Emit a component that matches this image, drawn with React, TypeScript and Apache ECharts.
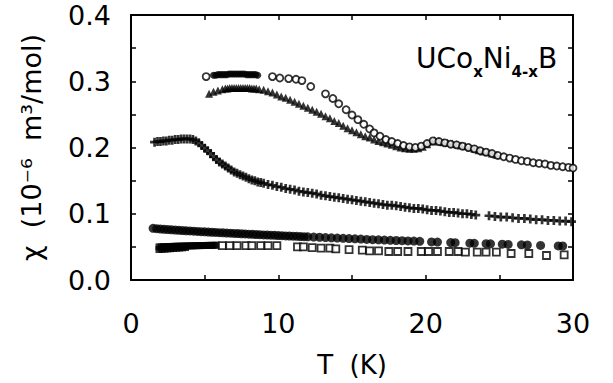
import React, { useEffect, useRef } from "react";
import * as echarts from "echarts";

// ---- data: [T (K), chi (10^-6 m^3/mol)] ----
const openCirclesDense: number[][] = [
  [5.6, 0.309], [5.75, 0.309], [5.9, 0.31], [6.05, 0.31], [6.2, 0.31], [6.35, 0.31],
  [6.5, 0.31], [6.65, 0.311], [6.8, 0.311], [6.95, 0.311], [7.1, 0.311], [7.25, 0.311], [7.4, 0.311],
  [7.55, 0.311], [7.7, 0.311], [7.85, 0.31], [8.0, 0.31], [8.15, 0.31], [8.3, 0.31], [8.45, 0.31],
  [8.6, 0.309],
];

const openCircles: number[][] = [
  [5.1, 0.307], [9.6, 0.307], [10.1, 0.305], [10.7, 0.304], [11.2, 0.303], [11.6, 0.301], [12.2, 0.292],
  [13.2, 0.281], [13.7, 0.274], [14.1, 0.266], [14.6, 0.257], [15.0, 0.249], [15.4, 0.242], [15.8, 0.235],
  [16.2, 0.228], [16.5, 0.222], [16.9, 0.217], [17.3, 0.212], [17.7, 0.209], [18.1, 0.206], [18.5, 0.203],
  [18.9, 0.201], [19.3, 0.2], [19.7, 0.202], [20.1, 0.206], [20.5, 0.21], [20.9, 0.209], [21.3, 0.207],
  [21.7, 0.205], [22.1, 0.204], [22.5, 0.202], [22.9, 0.2], [23.3, 0.198], [23.7, 0.195], [24.1, 0.193],
  [24.5, 0.191], [24.9, 0.188], [25.3, 0.186], [25.7, 0.184], [26.1, 0.182], [26.5, 0.18], [26.9, 0.179],
  [27.3, 0.177], [27.7, 0.176], [28.1, 0.175], [28.5, 0.173], [28.9, 0.172], [29.3, 0.171], [29.7, 0.17],
  [30.0, 0.169],
];

const triangles: number[][] = [
  [5.3, 0.281], [5.6, 0.284], [5.9, 0.286], [6.2, 0.288], [6.4, 0.289], [6.55, 0.289], [6.7, 0.29],
  [6.85, 0.29], [7.0, 0.29], [7.15, 0.29], [7.3, 0.29], [7.45, 0.29], [7.6, 0.29], [7.75, 0.29],
  [7.9, 0.29], [8.05, 0.29], [8.2, 0.289], [8.35, 0.289], [8.5, 0.289], [8.7, 0.288], [9.0, 0.287],
  [9.3, 0.285], [9.6, 0.283], [9.9, 0.28], [10.2, 0.277], [10.5, 0.275], [10.8, 0.272], [11.1, 0.269],
  [11.4, 0.266], [11.7, 0.263], [12.0, 0.26], [12.3, 0.257], [12.6, 0.254], [12.9, 0.251], [13.2, 0.247],
  [13.5, 0.244], [13.8, 0.24], [14.1, 0.237], [14.4, 0.233], [14.7, 0.229], [15.0, 0.226], [15.3, 0.223],
  [15.6, 0.22], [15.9, 0.217], [16.2, 0.215], [16.5, 0.212], [16.8, 0.21], [17.1, 0.208], [17.4, 0.206],
  [17.7, 0.204], [18.0, 0.202], [18.3, 0.2], [18.6, 0.199], [18.9, 0.198], [19.2, 0.198], [19.5, 0.199],
  [19.8, 0.201], [20.1, 0.205], [20.4, 0.209], [20.6, 0.211], [20.9, 0.209], [21.2, 0.208], [21.5, 0.207],
  [21.8, 0.206], [22.1, 0.205], [22.4, 0.203], [22.7, 0.202], [23.0, 0.2], [23.3, 0.198], [23.6, 0.196],
  [23.9, 0.194], [24.2, 0.193], [24.5, 0.191], [24.8, 0.189],
];

const pluses: number[][] = [
  [1.6, 0.208], [1.8, 0.209], [2.0, 0.209], [2.2, 0.21], [2.4, 0.21], [2.6, 0.211], [2.8, 0.211],
  [3.0, 0.212], [3.2, 0.212], [3.4, 0.213], [3.6, 0.213], [3.8, 0.213], [4.0, 0.213], [4.2, 0.212],
  [4.4, 0.21], [4.6, 0.207], [4.8, 0.203], [5.0, 0.199], [5.2, 0.195], [5.4, 0.191], [5.6, 0.186],
  [5.8, 0.182], [6.0, 0.178], [6.2, 0.175], [6.4, 0.172], [6.6, 0.169], [6.8, 0.166], [7.0, 0.163],
  [7.2, 0.161], [7.4, 0.159], [7.6, 0.157], [7.8, 0.155], [8.0, 0.153], [8.2, 0.151], [8.4, 0.15],
  [8.6, 0.148], [8.8, 0.147], [9.0, 0.146], [9.3, 0.144], [9.6, 0.143], [9.9, 0.141], [10.2, 0.14],
  [10.5, 0.138], [10.8, 0.137], [11.1, 0.136], [11.4, 0.134], [11.7, 0.133], [12.0, 0.132], [12.3, 0.131],
  [12.6, 0.13], [12.9, 0.128], [13.2, 0.127], [13.5, 0.126], [13.8, 0.125], [14.1, 0.124], [14.4, 0.123],
  [14.7, 0.122], [15.0, 0.121], [15.3, 0.12], [15.6, 0.119], [15.9, 0.118], [16.2, 0.117], [16.5, 0.116],
  [16.8, 0.115], [17.1, 0.114], [17.4, 0.113], [17.7, 0.113], [18.0, 0.112], [18.3, 0.111], [18.6, 0.11],
  [18.9, 0.109], [19.2, 0.108], [19.5, 0.108], [19.8, 0.107], [20.1, 0.106], [20.4, 0.105], [20.7, 0.105],
  [21.0, 0.104], [21.3, 0.103], [21.6, 0.102], [21.9, 0.102], [22.2, 0.101], [22.5, 0.1], [22.8, 0.1],
  [23.1, 0.099], [23.4, 0.098], [24.3, 0.097], [24.7, 0.096], [25.1, 0.095], [25.5, 0.095], [25.9, 0.094],
  [26.3, 0.093], [26.7, 0.093], [27.1, 0.092], [27.5, 0.091], [27.9, 0.091], [28.3, 0.09], [28.7, 0.09],
  [29.1, 0.089], [29.5, 0.089], [29.9, 0.088],
];

const filledCircles: number[][] = [
  [1.5, 0.078], [1.75, 0.0775], [2.0, 0.077], [2.25, 0.0765], [2.5, 0.0762], [2.75, 0.0758], [3.0, 0.0755],
  [3.25, 0.075], [3.5, 0.0747], [3.75, 0.0743], [4.0, 0.074], [4.25, 0.0737], [4.5, 0.0733], [4.75, 0.073],
  [5.0, 0.0727], [5.25, 0.0724], [5.5, 0.0721], [5.75, 0.0718], [6.0, 0.0715], [6.25, 0.0712], [6.5, 0.0709],
  [6.75, 0.0706], [7.0, 0.0703], [7.25, 0.07], [7.5, 0.0698], [7.75, 0.0695], [8.0, 0.0692], [8.25, 0.069],
  [8.5, 0.0687], [8.75, 0.0684], [9.0, 0.0681], [9.25, 0.0679], [9.5, 0.0676], [9.75, 0.0674], [10.0, 0.0671],
  [10.25, 0.0669], [10.5, 0.0666], [10.75, 0.0664], [11.0, 0.0661], [11.25, 0.0659], [11.5, 0.0656],
  [11.75, 0.0654], [12.0, 0.0652], [12.4, 0.0648], [12.8, 0.0645], [13.2, 0.0641], [13.6, 0.0637],
  [14.0, 0.0633], [14.4, 0.0629], [14.8, 0.0625], [15.2, 0.0621], [15.6, 0.0617], [16.0, 0.0613],
  [16.4, 0.0609], [16.8, 0.0606], [17.2, 0.0602], [17.6, 0.0599], [18.0, 0.0596], [18.4, 0.0593],
  [18.8, 0.059], [19.2, 0.0587], [19.6, 0.0584], [20.4, 0.0575], [20.8, 0.0572], [21.7, 0.0565],
  [22.0, 0.0563], [23.0, 0.0556], [23.3, 0.0554], [24.1, 0.0548], [24.4, 0.0546], [25.2, 0.054],
  [25.6, 0.0537], [26.5, 0.0531], [26.9, 0.0528], [27.8, 0.0522], [29.0, 0.0515], [29.3, 0.0513],
];

const squaresDense: number[][] = [
  [1.9, 0.046], [2.1, 0.0463], [2.3, 0.0466], [2.5, 0.047], [2.7, 0.0473], [2.9, 0.0476], [3.1, 0.048],
  [3.3, 0.0483], [3.5, 0.0486], [3.7, 0.049], [1.9, 0.05], [2.05, 0.05], [2.2, 0.0502], [2.35, 0.0503],
  [2.5, 0.0505], [2.65, 0.0506], [2.8, 0.0507], [2.95, 0.0508], [3.1, 0.051], [3.25, 0.051], [3.4, 0.0511],
  [3.55, 0.0512], [3.7, 0.0513], [3.85, 0.0514], [4.0, 0.0515], [4.15, 0.0516], [4.3, 0.0517],
  [4.45, 0.0518], [4.6, 0.0519], [4.75, 0.052], [4.9, 0.052], [5.05, 0.0521], [5.2, 0.0522],
  [5.35, 0.0523], [5.5, 0.0523], [5.65, 0.0524], [5.8, 0.0525],
];

const openSquares: number[][] = [
  [6.2, 0.052], [6.7, 0.052], [7.2, 0.052], [7.8, 0.052], [8.2, 0.052], [8.8, 0.052], [9.3, 0.052],
  [9.9, 0.052], [11.3, 0.05], [11.7, 0.05], [12.3, 0.049], [12.9, 0.048], [13.5, 0.048], [13.9, 0.047],
  [14.8, 0.046], [15.7, 0.045], [16.2, 0.044], [16.8, 0.044], [17.5, 0.043], [18.1, 0.043], [18.8, 0.043],
  [19.7, 0.043], [20.2, 0.043], [20.8, 0.043], [21.6, 0.043], [22.2, 0.043], [22.7, 0.042], [23.5, 0.042],
  [24.1, 0.042], [24.8, 0.042], [25.8, 0.04], [27.0, 0.04], [28.2, 0.037], [29.4, 0.038],
];

const FONT = "DejaVu Sans";
const PLUS = "path://M3.5,0 H6.5 V3.5 H10 V6.5 H6.5 V10 H3.5 V6.5 H0 V3.5 H3.5 Z";

export default function App() {
  const ref = useRef<HTMLDivElement>(null);
  useEffect(() => {
    if (!ref.current) return;
    const chart = echarts.init(ref.current, null, { renderer: "svg" });
    const axisLine = { show: true, onZero: false, lineStyle: { color: "#000", width: 2 } };
    const tick = { show: true, inside: true, length: 5, lineStyle: { color: "#000", width: 1.5 } };
    const scatter = (data: number[][], symbol: string, size: number, filled: boolean) => ({
      type: "scatter",
      data,
      symbol,
      symbolSize: size,
      itemStyle: filled
        ? { color: "#000" }
        : { color: "#fff", borderColor: "#000", borderWidth: 1.8 },
      z: 3,
    });
    chart.setOption({
      animation: false,
      backgroundColor: "#fff",
      grid: { left: 131, right: 40, top: 15, bottom: 93, containLabel: false },
      xAxis: [
        {
          type: "value", min: 0, max: 30, interval: 5, position: "bottom",
          axisLine, axisTick: tick, splitLine: { show: false },
          axisLabel: {
            color: "#000", fontSize: 27, fontFamily: FONT, margin: 30,
            formatter: (v: number) => (v % 10 === 0 ? String(v) : ""),
          },
          name: "T  (K)", nameLocation: "middle", nameGap: 72,
          nameTextStyle: { color: "#000", fontSize: 26, fontFamily: FONT },
        },
        {
          type: "value", min: 0, max: 30, interval: 5, position: "top",
          axisLine, axisTick: tick, splitLine: { show: false }, axisLabel: { show: false },
        },
      ],
      yAxis: [
        {
          type: "value", min: 0, max: 0.4, interval: 0.05, position: "left",
          axisLine, axisTick: tick, splitLine: { show: false },
          axisLabel: {
            color: "#000", fontSize: 27, fontFamily: FONT, margin: 20, padding: [10, 0, 0, 0],
            formatter: (v: number) => (Math.round(v * 100) % 10 === 0 ? v.toFixed(1) : ""),
          },
          name: "χ  (10⁻⁶  m³/mol)", nameLocation: "middle", nameGap: 86,
          nameTextStyle: { color: "#000", fontSize: 27, fontFamily: FONT },
        },
        {
          type: "value", min: 0, max: 0.4, interval: 0.05, position: "right",
          axisLine, axisTick: tick, splitLine: { show: false }, axisLabel: { show: false },
        },
      ],
      graphic: [
        {
          type: "text", left: 416, top: 44, z: 10,
          style: {
            text: "{a|UCo}{s|x}{a|Ni}{s|4-x}{a|B}",
            rich: {
              a: { fontSize: 28, fontFamily: FONT, fill: "#000", verticalAlign: "bottom", padding: [0, 0, 7, 0] },
              s: { fontSize: 15, fontFamily: FONT, fill: "#000", fontWeight: "bold", verticalAlign: "bottom" },
            },
          },
        },
      ],
      series: [
        scatter(squaresDense, "rect", 7, true),
        scatter(openSquares, "rect", 7, false),
        scatter(filledCircles, "circle", 9, true),
        scatter(pluses, PLUS, 9, true),
        scatter(triangles, "triangle", 8, true),
        scatter(openCirclesDense, "circle", 7, true),
        scatter(openCircles, "circle", 7, false),
      ],
    });
    return () => chart.dispose();
  }, []);
  return <div ref={ref} style={{ width: 613, height: 383, position: "absolute", left: 0, top: 0 }} />;
}
